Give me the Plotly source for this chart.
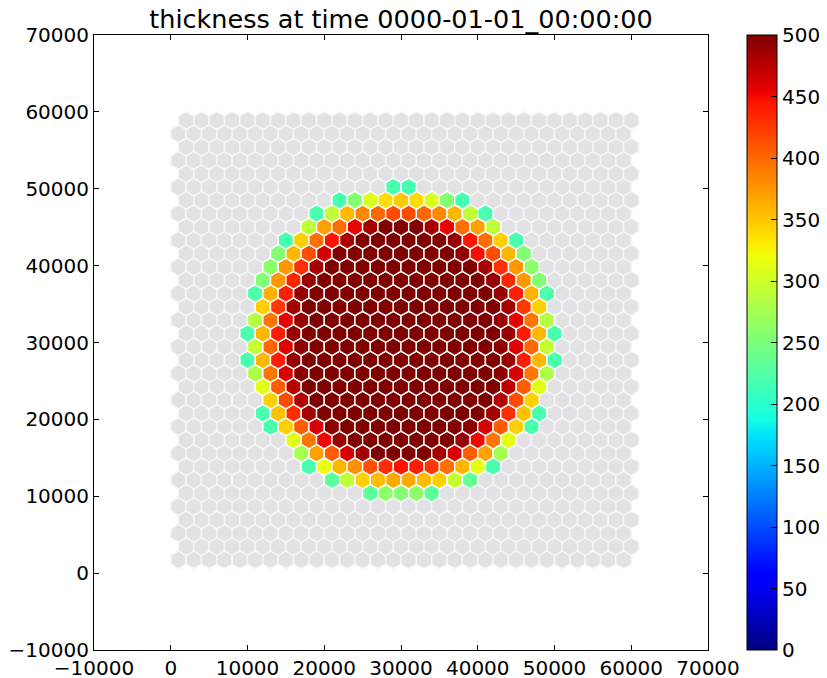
import numpy as np
import plotly.graph_objects as go

# ---------------- data ----------------
# Mesh: periodic hex mesh, 30 columns x 34 rows, cell spacing 2000 m
NX = 30
NY = 34
DC = 2000.0

# Rows of the mesh that carry ice (row index j, counted from the bottom, 0-based)
row_j = [28, 27, 26, 25, 24, 23, 22, 21, 20, 19, 18, 17,
         16, 15, 14, 13, 12, 11, 10, 9, 8, 7, 6, 5]
# x of the first ice-covered cell in each row (m)
row_start_x = [29000, 22000, 19000, 18000, 15000, 14000, 13000, 12000,
               11000, 12000, 11000, 10000, 11000, 10000, 11000, 12000,
               13000, 12000, 13000, 16000, 17000, 18000, 21000, 26000]
D = 500
# thickness of consecutive cells (2000 m apart) in each of those rows (m)
row_thickness = [
    [218, 218],
    [218, 255, 308, 338, 348, 338, 308, 255, 218],
    [219, 290, 358, 383, 400, 415, 415, 400, 383, 358, 290, 219],
    [290, 370, 397, 454, 484, D, D, D, 484, 454, 397, 370, 290],
    [219, 345, 397, 445, 480, D, D, D, D, D, D, 490, 445, 397, 345, 219],
    [255, 358, 414, 465, D, D, D, D, D, D, D, D, 490, 448, 414, 358, 255],
    [260, 375, 430, 484] + [D] * 10 + [484, 430, 375, 260],
    [255, 375, 435, 490] + [D] * 11 + [490, 435, 375, 255],
    [222, 360, 440, 490] + [D] * 12 + [490, 440, 360, 222],
    [345, 425, 485] + [D] * 13 + [485, 425, 345],
    [285, 392, 455, 490] + [D] * 12 + [490, 455, 392, 285],
    [219, 358, 440, 490] + [D] * 13 + [490, 440, 358, 219],
    [295, 400, 460, 495] + [D] * 12 + [495, 460, 400, 295],
    [219, 358, 440, 490] + [D] * 13 + [490, 440, 358, 219],
    [282, 392, 462, 495] + [D] * 12 + [495, 462, 392, 282],
    [312, 406, 475] + [D] * 13 + [475, 406, 312],
    [345, 414, 478] + [D] * 12 + [478, 414, 345],
    [219, 352, 432, 485] + [D] * 11 + [485, 432, 352, 219],
    [219, 345, 406, 462, 495] + [D] * 8 + [495, 462, 406, 345, 219],
    [313, 392, 452, 490] + [D] * 7 + [490, 452, 392, 313],
    [275, 370, 406, 462, 484, D, D, D, D, 484, 462, 406, 370, 275],
    [219, 315, 358, 378, 412, 432, 445, 440, 425, 397, 358, 315, 219],
    [230, 290, 345, 355, 365, 365, 355, 345, 295, 235],
    [230, 260, 255, 260, 230],
]

title_text = "thickness at time 0000-01-01_00:00:00"
axis_ticks = list(range(-10000, 70001, 10000))
cbar_ticks = list(range(0, 501, 50))

# ---------------- build cells ----------------
cells_x, cells_y, cells_j = [], [], []
for j in range(NY):
    for i in range(NX):
        cells_x.append(DC * (i + 0.5 + 0.5 * (j % 2)))
        cells_y.append(DC * np.sqrt(3) / 2 * (j + 1))
        cells_j.append(j)
cells_x = np.array(cells_x)
cells_y = np.array(cells_y)
cells_j = np.array(cells_j)
thk = np.zeros(len(cells_x))
for j, x0, vals in zip(row_j, row_start_x, row_thickness):
    for k, v in enumerate(vals):
        xv = x0 + k * DC
        idx = np.where((cells_j == j) & (np.abs(cells_x - xv) < 1.0))[0]
        thk[idx] = v

ice = thk > 0

# matplotlib "jet" colormap
jet_r = [(0, 0), (0.35, 0), (0.66, 1), (0.89, 1), (1, 0.5)]
jet_g = [(0, 0), (0.125, 0), (0.375, 1), (0.64, 1), (0.91, 0), (1, 0)]
jet_b = [(0, 0.5), (0.11, 1), (0.34, 1), (0.65, 0), (1, 0)]
stops = sorted(set([p for p, _ in jet_r + jet_g + jet_b]))
def chan(seg, t):
    return np.interp(t, [p for p, _ in seg], [v for _, v in seg])
jet = [[t, "rgb(%d,%d,%d)" % (round(255 * chan(jet_r, t)),
                              round(255 * chan(jet_g, t)),
                              round(255 * chan(jet_b, t)))] for t in stops]

# ---------------- figure ----------------
# The page puts the figure 8 px from the window edges (body margin).
OFF = 8
W, H = 827 - 2 * OFF, 678 - OFF
ML, MT = 94 - OFF, 35 - OFF
MR = W - (708 - OFF)
MB = H - (650 - OFF)
plot_w = W - ML - MR
px_per_m = plot_w / 80000.0
msize = DC * px_per_m / (np.sqrt(3) / 2)

font = dict(family="DejaVu Sans", size=20, color="black")

fig = go.Figure()
fig.add_trace(go.Scatter(
    x=cells_x[~ice], y=cells_y[~ice], mode="markers",
    marker=dict(symbol="hexagon", size=msize, color="#e2e2e5",
                line=dict(color="#f6f6f9", width=1.5)),
    hoverinfo="skip", showlegend=False))
fig.add_trace(go.Scatter(
    x=cells_x[ice], y=cells_y[ice], mode="markers",
    marker=dict(symbol="hexagon", size=msize, color=thk[ice],
                colorscale=jet, cmin=0, cmax=500, showscale=True,
                line=dict(color="white", width=1.4),
                colorbar=dict(x=(747 - OFF - ML) / plot_w, xanchor="left", xpad=0,
                              y=0.5, yanchor="middle", len=1, ypad=0,
                              thickness=30, outlinecolor="black", outlinewidth=1,
                              tickvals=cbar_ticks, ticks="inside", ticklen=6,
                              tickcolor="black", tickfont=font)),
    showlegend=False))

axis = dict(range=[-10000, 70000], tickvals=axis_ticks, tickformat="d",
            ticks="inside", ticklen=5, tickcolor="black", showline=True,
            linecolor="black", linewidth=1, mirror="ticks", showgrid=False,
            zeroline=False, tickfont=font, automargin=False)
fig.update_layout(
    width=W, height=H,
    margin=dict(l=ML, r=MR, t=MT, b=MB, autoexpand=False),
    paper_bgcolor="white", plot_bgcolor="white", font=font,
    xaxis=axis, yaxis=axis,
    title=dict(text=title_text, x=(ML + plot_w / 2) / W, xanchor="center",
               y=1 - (19 - OFF) / H, yanchor="middle", font=dict(size=25.5)),
)
fig.write_html("out.html")
